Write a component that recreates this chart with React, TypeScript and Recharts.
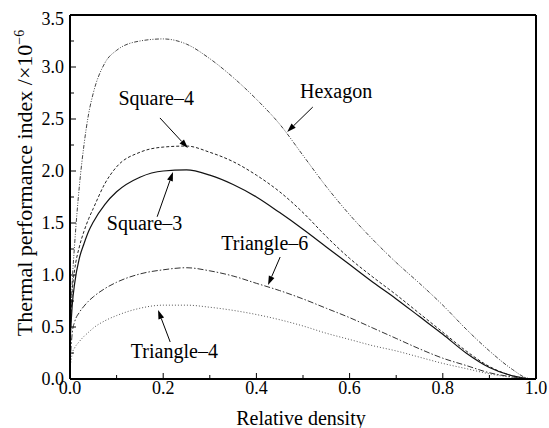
import React from 'react';
import { LineChart, Line, XAxis, YAxis, ReferenceLine, ReferenceDot, Label } from 'recharts';

// relative density grid
const density = [0, 0.005, 0.01, 0.02, 0.03, 0.04, 0.05, 0.075, 0.1, 0.15, 0.2, 0.25, 0.3, 0.35, 0.4, 0.45, 0.5, 0.55, 0.6, 0.65, 0.7, 0.75, 0.8, 0.85, 0.9, 0.95, 0.98, 1.0];

const hexagon = [0.4, 0.95, 1.3, 1.85, 2.25, 2.55, 2.75, 3.04, 3.16, 3.25, 3.27, 3.22, 3.08, 2.9, 2.69, 2.45, 2.15, 1.85, 1.58, 1.34, 1.12, 0.92, 0.71, 0.48, 0.27, 0.09, 0.01, 0];
const square4 = [0.35, 0.85, 1.05, 1.27, 1.42, 1.54, 1.64, 1.88, 2.04, 2.18, 2.23, 2.24, 2.18, 2.09, 1.96, 1.8, 1.6, 1.37, 1.16, 0.98, 0.81, 0.63, 0.45, 0.27, 0.12, 0.03, 0.005, 0];
const square3 = [0.35, 0.72, 0.92, 1.16, 1.3, 1.42, 1.51, 1.68, 1.8, 1.94, 2.0, 2.01, 1.96, 1.87, 1.75, 1.6, 1.44, 1.27, 1.1, 0.93, 0.77, 0.6, 0.43, 0.25, 0.11, 0.03, 0.005, 0];
const triangle6 = [0.15, 0.45, 0.55, 0.64, 0.7, 0.75, 0.79, 0.87, 0.93, 1.01, 1.05, 1.07, 1.04, 0.99, 0.92, 0.85, 0.77, 0.68, 0.59, 0.49, 0.39, 0.29, 0.2, 0.13, 0.06, 0.02, 0.003, 0];
const triangle4 = [0.1, 0.25, 0.3, 0.36, 0.41, 0.45, 0.49, 0.56, 0.61, 0.68, 0.71, 0.71, 0.69, 0.66, 0.62, 0.57, 0.51, 0.44, 0.38, 0.32, 0.27, 0.21, 0.15, 0.1, 0.05, 0.015, 0.003, 0];

const xTicks = [0, 0.1, 0.2, 0.3, 0.4, 0.5, 0.6, 0.7, 0.8, 0.9, 1.0];
const yTicks = [0, 0.25, 0.5, 0.75, 1.0, 1.25, 1.5, 1.75, 2.0, 2.25, 2.5, 2.75, 3.0, 3.25, 3.5];

// annotation text [label, x, y] and arrows [x1, y1, x2, y2], in data units
const notes: [string, number, number][] = [
  ['Hexagon', 0.571, 2.7],
  ['Square\u20134', 0.185, 2.635],
  ['Square\u20133', 0.16, 1.433],
  ['Triangle\u20136', 0.418, 1.24],
  ['Triangle\u20134', 0.224, 0.202],
];
const arrows: [number, number, number, number][] = [
  [0.521, 2.615, 0.466, 2.375],
  [0.193, 2.51, 0.253, 2.22],
  [0.187, 1.56, 0.221, 1.99],
  [0.451, 1.173, 0.425, 0.904],
  [0.215, 0.356, 0.189, 0.663],
];

const data = density.map((rd, i) => ({
  rd,
  hexagon: hexagon[i],
  square4: square4[i],
  square3: square3[i],
  triangle6: triangle6[i],
  triangle4: triangle4[i],
}));

const FONT = 'Liberation Serif, DejaVu Serif, serif';
const txt = (size: number) => ({ fontFamily: FONT, fontSize: size });

const XTick = ({ x, y, payload }: any) => {
  const v = payload.value;
  const major = Math.round(v * 10) % 2 === 0;
  return (
    <g>
      <line x1={x} x2={x} y1={y} y2={y - (major ? 6 : 4)} stroke="#000" strokeWidth={1} />
      {major && (
        <text x={x} y={y + 15} textAnchor="middle" style={txt(18)} fill="#000">
          {v.toFixed(1)}
        </text>
      )}
    </g>
  );
};

const YTick = ({ x, y, payload }: any) => {
  const v = payload.value;
  const major = Math.round(v * 4) % 2 === 0;
  return (
    <g>
      <line x1={x} x2={x + (major ? 6 : 4)} y1={y} y2={y} stroke="#000" strokeWidth={1} />
      {major && (
        <text x={x - 6} y={y + 6 + (v === 3.5 ? 4 : 0)} textAnchor="end" style={txt(18)} fill="#000">
          {v.toFixed(1)}
        </text>
      )}
    </g>
  );
};

const Arrow = (p: any) => {
  const { x1, y1, x2, y2 } = p;
  const a = Math.atan2(y2 - y1, x2 - x1);
  const len = 9;
  const w = 3;
  const bx = x2 - len * Math.cos(a);
  const by = y2 - len * Math.sin(a);
  const px = -Math.sin(a) * w;
  const py = Math.cos(a) * w;
  return (
    <g>
      <line x1={x1} y1={y1} x2={bx} y2={by} stroke="#000" strokeWidth={1} />
      <polygon points={`${x2},${y2} ${bx + px},${by + py} ${bx - px},${by - py}`} fill="#000" />
    </g>
  );
};

export default function App() {
  return (
    <div style={{ position: 'absolute', left: 0, top: 0, width: 549, height: 428, background: '#fff' }}>
      <LineChart width={549} height={428} data={data} margin={{ top: 15, right: 13, bottom: 0, left: 0 }}>
        <XAxis
          dataKey="rd"
          type="number"
          domain={[0, 1]}
          ticks={xTicks}
          interval={0}
          height={49}
          tickSize={0}
          tickMargin={0}
          tickLine={false}
          tick={<XTick />}
          axisLine={{ stroke: '#000', strokeWidth: 2 }}
        >
          <Label
            content={() => (
              <text x={301} y={425} textAnchor="middle" style={txt(20)} fill="#000">
                Relative density
              </text>
            )}
          />
        </XAxis>
        <YAxis
          type="number"
          domain={[0, 3.5]}
          ticks={yTicks}
          interval={0}
          width={70}
          tickSize={0}
          tickMargin={0}
          tickLine={false}
          tick={<YTick />}
          axisLine={{ stroke: '#000', strokeWidth: 2 }}
        >
          <Label
            content={() => (
              <text
                x={32}
                y={183}
                transform="rotate(-90 32 183)"
                textAnchor="middle"
                style={txt(22)}
                fill="#000"
              >
                Thermal performance index /×10
                <tspan dy={-8} style={{ fontSize: 14 }}>−6</tspan>
              </text>
            )}
          />
        </YAxis>
        <ReferenceLine y={3.5} stroke="#000" strokeWidth={2} />
        <ReferenceLine x={1} stroke="#000" strokeWidth={2} />

        <Line type="monotone" dataKey="hexagon" stroke="#444" strokeWidth={1} strokeDasharray="4 1.5 1 1.5 1 1.5" dot={false} isAnimationActive={false} />
        <Line type="monotone" dataKey="square4" stroke="#222" strokeWidth={1} strokeDasharray="3 2" dot={false} isAnimationActive={false} />
        <Line type="monotone" dataKey="square3" stroke="#111" strokeWidth={1.2} dot={false} isAnimationActive={false} />
        <Line type="monotone" dataKey="triangle6" stroke="#333" strokeWidth={1} strokeDasharray="6 2 1.5 2" dot={false} isAnimationActive={false} />
        <Line type="monotone" dataKey="triangle4" stroke="#555" strokeWidth={1} strokeDasharray="1 2" dot={false} isAnimationActive={false} />

        {arrows.map((a, i) => (
          <ReferenceLine
            key={`a${i}`}
            segment={[{ x: a[0], y: a[1] }, { x: a[2], y: a[3] }]}
            shape={(p: any) => <Arrow {...p} />}
          />
        ))}
        {notes.map((n, i) => (
          <ReferenceDot
            key={`n${i}`}
            x={n[1]}
            y={n[2]}
            r={0}
            shape={(p: any) => (
              <text x={p.cx} y={p.cy} textAnchor="middle" style={txt(20)} fill="#000">
                {n[0]}
              </text>
            )}
          />
        ))}
      </LineChart>
    </div>
  );
}
